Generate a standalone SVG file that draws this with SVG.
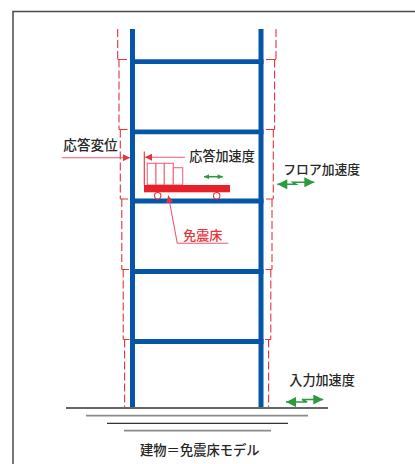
<svg xmlns="http://www.w3.org/2000/svg" width="415" height="464" viewBox="0 0 415 464">
  <style>
    .lbl { font-family: "Noto Sans CJK JP", "Noto Sans", sans-serif; fill: #262626; font-weight: 500; }
    .red-lbl { fill: #e8323c; }
    .col { stroke: #0656a8; stroke-width: 5; fill: none; }
    .beam { stroke: #0656a8; stroke-width: 4.8; fill: none; }
    .env { stroke: #e8323c; stroke-width: 1.1; stroke-dasharray: 8 3; fill: none; }
    .tick { stroke: #e8323c; stroke-width: 1.1; fill: none; }
    .lead { stroke: #ee5a68; stroke-width: 1.1; fill: none; }
    .gline { stroke: #2e9a40; stroke-width: 1.6; fill: none; }
    .box { fill: #fff; stroke: #f06a78; stroke-width: 1.1; }
    .ground-dark { stroke: #333; stroke-width: 1.3; }
    .ground-gray { stroke: #8a8a8a; stroke-width: 1.8; }
  </style>
  <defs>
    <marker id="ga" viewBox="0 0 10 10" refX="10" refY="5" markerWidth="11" markerHeight="10" markerUnits="userSpaceOnUse" orient="auto-start-reverse">
      <path d="M0,0 L10,5 L0,10z" fill="#2e9a40"/>
    </marker>
    <marker id="gs" viewBox="0 0 10 10" refX="10" refY="5" markerWidth="6" markerHeight="5" markerUnits="userSpaceOnUse" orient="auto-start-reverse">
      <path d="M0,0 L10,5 L0,10z" fill="#2e9a40"/>
    </marker>
    <marker id="ra" viewBox="0 0 10 10" refX="10" refY="5" markerWidth="9" markerHeight="7" markerUnits="userSpaceOnUse" orient="auto">
      <path d="M0,0 L10,5 L0,10z" fill="#e8323c"/>
    </marker>
  </defs>

  <!-- outer frame -->
  <g id="border">
    <path d="M13,464 V11.5 H415" fill="none" stroke="#4a4a4a" stroke-width="1.5"/>
  </g>

  <!-- ground -->
  <g id="ground">
    <line class="ground-dark" x1="66" y1="408" x2="328" y2="408"/>
    <line class="ground-gray" x1="86" y1="415.7" x2="308" y2="415.7"/>
    <line class="ground-dark" x1="107" y1="423.3" x2="288" y2="423.3"/>
    <line class="ground-gray" x1="124" y1="430.7" x2="271" y2="430.7"/>
  </g>

  <!-- deformed shape envelope -->
  <g id="envelope">
    <line class="env" x1="117.7" y1="29" x2="117.7" y2="59.5"/>
    <line class="env" x1="119" y1="59.5" x2="119" y2="129.5"/>
    <line class="env" x1="120.3" y1="129.5" x2="120.3" y2="199"/>
    <line class="env" x1="121.8" y1="199" x2="121.8" y2="269.5"/>
    <line class="env" x1="123.2" y1="269.5" x2="123.2" y2="339.5"/>
    <line class="env" x1="124.6" y1="339.5" x2="124.6" y2="407"/>
    <line class="env" x1="276" y1="29" x2="276" y2="59.5"/>
    <line class="env" x1="274.6" y1="59.5" x2="274.6" y2="129.5"/>
    <line class="env" x1="273.3" y1="129.5" x2="273.3" y2="199"/>
    <line class="env" x1="272" y1="199" x2="272" y2="269.5"/>
    <line class="env" x1="270.8" y1="269.5" x2="270.8" y2="339.5"/>
    <line class="env" x1="268.6" y1="339.5" x2="268.6" y2="407"/>
    <path class="tick" d="M117.7,59.5 H127 M119,129.5 H127.5 M120.3,199 H128 M121.8,269.5 H129 M123.2,339.5 H129.5"/>
    <path class="tick" d="M266,59.5 H276 M266,129.5 H274.6 M266,199 H273.3 M265.5,269.5 H272 M265,339.5 H270.8"/>
  </g>

  <!-- building frame -->
  <g id="building">
    <line class="col" x1="132.5" y1="29" x2="132.5" y2="407"/>
    <line class="col" x1="261" y1="29" x2="261" y2="407"/>
    <line class="beam" x1="130" y1="61.7" x2="263.5" y2="61.7"/>
    <line class="beam" x1="130" y1="131.8" x2="263.5" y2="131.8"/>
    <line class="beam" x1="130" y1="201" x2="263.5" y2="201"/>
    <line class="beam" x1="130" y1="271.5" x2="263.5" y2="271.5"/>
    <line class="beam" x1="130" y1="341.5" x2="263.5" y2="341.5"/>
  </g>

  <!-- isolated floor with stored goods -->
  <g id="isolation-floor">
    <rect class="box" x="147.3" y="163.3" width="8.7" height="21.7"/>
    <rect class="box" x="156" y="163.3" width="8.3" height="21.7"/>
    <rect class="box" x="164.3" y="163.3" width="9" height="21.7"/>
    <rect class="box" x="173.3" y="167.7" width="9.4" height="17.3"/>
    <rect x="144" y="185" width="86" height="7.3" fill="#e8202a"/>
    <circle cx="157.7" cy="195.7" r="3.2" fill="#fff" stroke="#e8323c" stroke-width="1.1"/>
    <circle cx="216.7" cy="195.7" r="3.2" fill="#fff" stroke="#e8323c" stroke-width="1.1"/>
    <line class="tick" x1="144.3" y1="151.5" x2="144.3" y2="185"/>
  </g>

  <!-- arrows and leaders -->
  <g id="connectors">
    <line class="lead" x1="61.7" y1="157.7" x2="130" y2="157.7" marker-end="url(#ra)"/>
    <line class="lead" x1="185" y1="157.2" x2="145" y2="157.2" marker-end="url(#ra)"/>
    <path class="lead" d="M228.3,243.3 H177.3 L168.3,195.5" marker-end="url(#ra)"/>
    <line class="gline" x1="204" y1="176.7" x2="222.7" y2="176.7" marker-start="url(#gs)" marker-end="url(#gs)"/>
    <path class="gline" d="M277.3,184.3 H296 L293,182.3 H314.3" marker-start="url(#ga)" marker-end="url(#ga)"/>
    <path class="gline" d="M286,402 H307 L302,399.5 H323.3" marker-start="url(#ga)" marker-end="url(#ga)"/>
  </g>

  <!-- labels -->
  <g id="label-displacement"><text class="lbl" x="63.3" y="150.3" font-size="13.6">応答変位</text></g>
  <g id="label-response-acc"><text class="lbl" x="189.3" y="161" font-size="13.1">応答加速度</text></g>
  <g id="label-isolation"><text class="lbl red-lbl" x="183.3" y="239.5" font-size="13">免震床</text></g>
  <g id="label-floor-acc"><text class="lbl" x="283.3" y="174.3" font-size="12.8">フロア加速度</text></g>
  <g id="label-input-acc"><text class="lbl" x="289.3" y="385.2" font-size="13.1">入力加速度</text></g>
  <g id="label-title"><text class="lbl" x="140" y="455.2" font-size="13.3">建物＝免震床モデル</text></g>
</svg>
